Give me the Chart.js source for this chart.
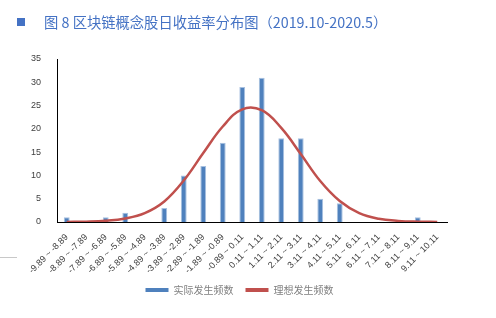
<!DOCTYPE html>
<html>
<head>
<meta charset="utf-8">
<script src="https://cdn.jsdelivr.net/npm/chart.js@4"></script>
<style>
  body { margin: 0; background: #fff; }
  #wrap { position: relative; width: 496px; height: 318px; }
  #title { position: absolute; left: 17px; top: 11px; font: 14.3px "Noto Sans CJK SC", sans-serif; color: #4472C4; white-space: nowrap; }
  #title .sq { display: inline-block; width: 8px; height: 8px; background: #4472C4; margin-right: 19px; vertical-align: 2px; }
  #rule { position: absolute; left: 0; top: 257px; width: 17px; height: 1px; background: #c8c8c8; }
  canvas { position: absolute; left: 0; top: 0; }
</style>
</head>
<body>
<div id="wrap">
  <canvas id="myChart" width="496" height="318"></canvas>
  <div id="title"><span class="sq"></span>图 8&nbsp;区块链概念股日收益率分布图（2019.10-2020.5）</div>
  <div id="rule"></div>
</div>
<script>
const labels = [
    "-9.89 ~ -8.89", "-8.89 ~ -7.89", "-7.89 ~ -6.89", "-6.89 ~ -5.89", "-5.89 ~ -4.89",
    "-4.89 ~ -3.89", "-3.89 ~ -2.89", "-2.89 ~ -1.89", "-1.89 ~ -0.89", "-0.89 ~ 0.11",
    "0.11 ~ 1.11", "1.11 ~ 2.11", "2.11 ~ 3.11", "3.11 ~ 4.11", "4.11 ~ 5.11",
    "5.11 ~ 6.11", "6.11 ~ 7.11", "7.11 ~ 8.11", "8.11 ~ 9.11", "9.11 ~ 10.11"
];
const actual = [1, 0, 1, 2, 0, 3, 10, 12, 17, 29, 31, 18, 18, 5, 4, 0, 0, 0, 1, 0];
const ideal = [0.02, 0.07, 0.25, 0.75, 1.9, 4.4, 8.9, 14.8, 20.5, 24.2, 24.0, 20.2, 14.6, 8.8, 4.5, 1.9, 0.7, 0.24, 0.07, 0.02];
const yTicks = [0, 5, 10, 15, 20, 25, 30, 35];

const tickFont = { family: "'Liberation Sans', sans-serif", size: 9 };

// nudge the legend a few pixels right, like the original
const legendShift = {
    id: "legendShift",
    afterLayout(c) {
        c.legend.left += 6;
        c.legend.right += 6;
    }
};

const ctx = document.getElementById("myChart").getContext("2d");
const chart = new Chart(ctx, {
    data: {
        labels: labels,
        datasets: [{
            type: "line",
            label: "理想发生频数",
            data: ideal,
            borderColor: "#C0504D",
            backgroundColor: "#C0504D",
            borderWidth: 2.5,
            pointRadius: 0,
            tension: 0.4,
            fill: false,
            order: 0
        },
            {
                type: "bar",
                label: "实际发生频数",
                data: actual,
                backgroundColor: "#4F81BD",
                borderColor: "#A7C0E0",
                borderWidth: { left: 1, right: 1, top: 1, bottom: 0 },
                barPercentage: 0.3,
                categoryPercentage: 1,
                order: 1
            }]
    },
    options: {
        responsive: false,
        animation: false,
        layout: { padding: { left: 20, right: 49, top: 59, bottom: 13 } },
        plugins: {
            legend: {
                position: "bottom",
                reverse: true,
                labels: {
                    color: "#808080",
                    font: { family: "'Noto Sans CJK SC', sans-serif", size: 10 },
                    boxWidth: 23,
                    boxHeight: 4,
                    padding: 12,
                    generateLabels(c) {
                        return c.data.datasets.map((d, i) => ({
                            text: d.label,
                            fillStyle: d.type == "line" ? "#C0504D" : "#4F81BD",
                            strokeStyle: d.type == "line" ? "#C0504D" : "#4F81BD",
                            lineWidth: 0,
                            datasetIndex: i,
                            fontColor: "#808080"
                        }));
                    }
                }
            },
            tooltip: { enabled: false }
        },
        scales: {
            x: {
                offset: true,
                grid: { display: false },
                border: { display: true, color: "#000", width: 1 },
                ticks: { color: "#404040", font: tickFont, minRotation: 45, maxRotation: 45, autoSkip: false, padding: 2 },
                afterFit(axis) { axis.height = 51; }
            },
            y: {
                min: 0,
                max: 35,
                grid: { display: false },
                border: { display: true, color: "#000", width: 1 },
                afterBuildTicks(axis) { axis.ticks = yTicks.map(v => ({ value: v })); },
                ticks: { color: "#404040", font: tickFont, padding: 8 },
                afterFit(axis) { axis.width = 37; }
            }
        }
    },
    plugins: [legendShift]
});
</script>
</body>
</html>
